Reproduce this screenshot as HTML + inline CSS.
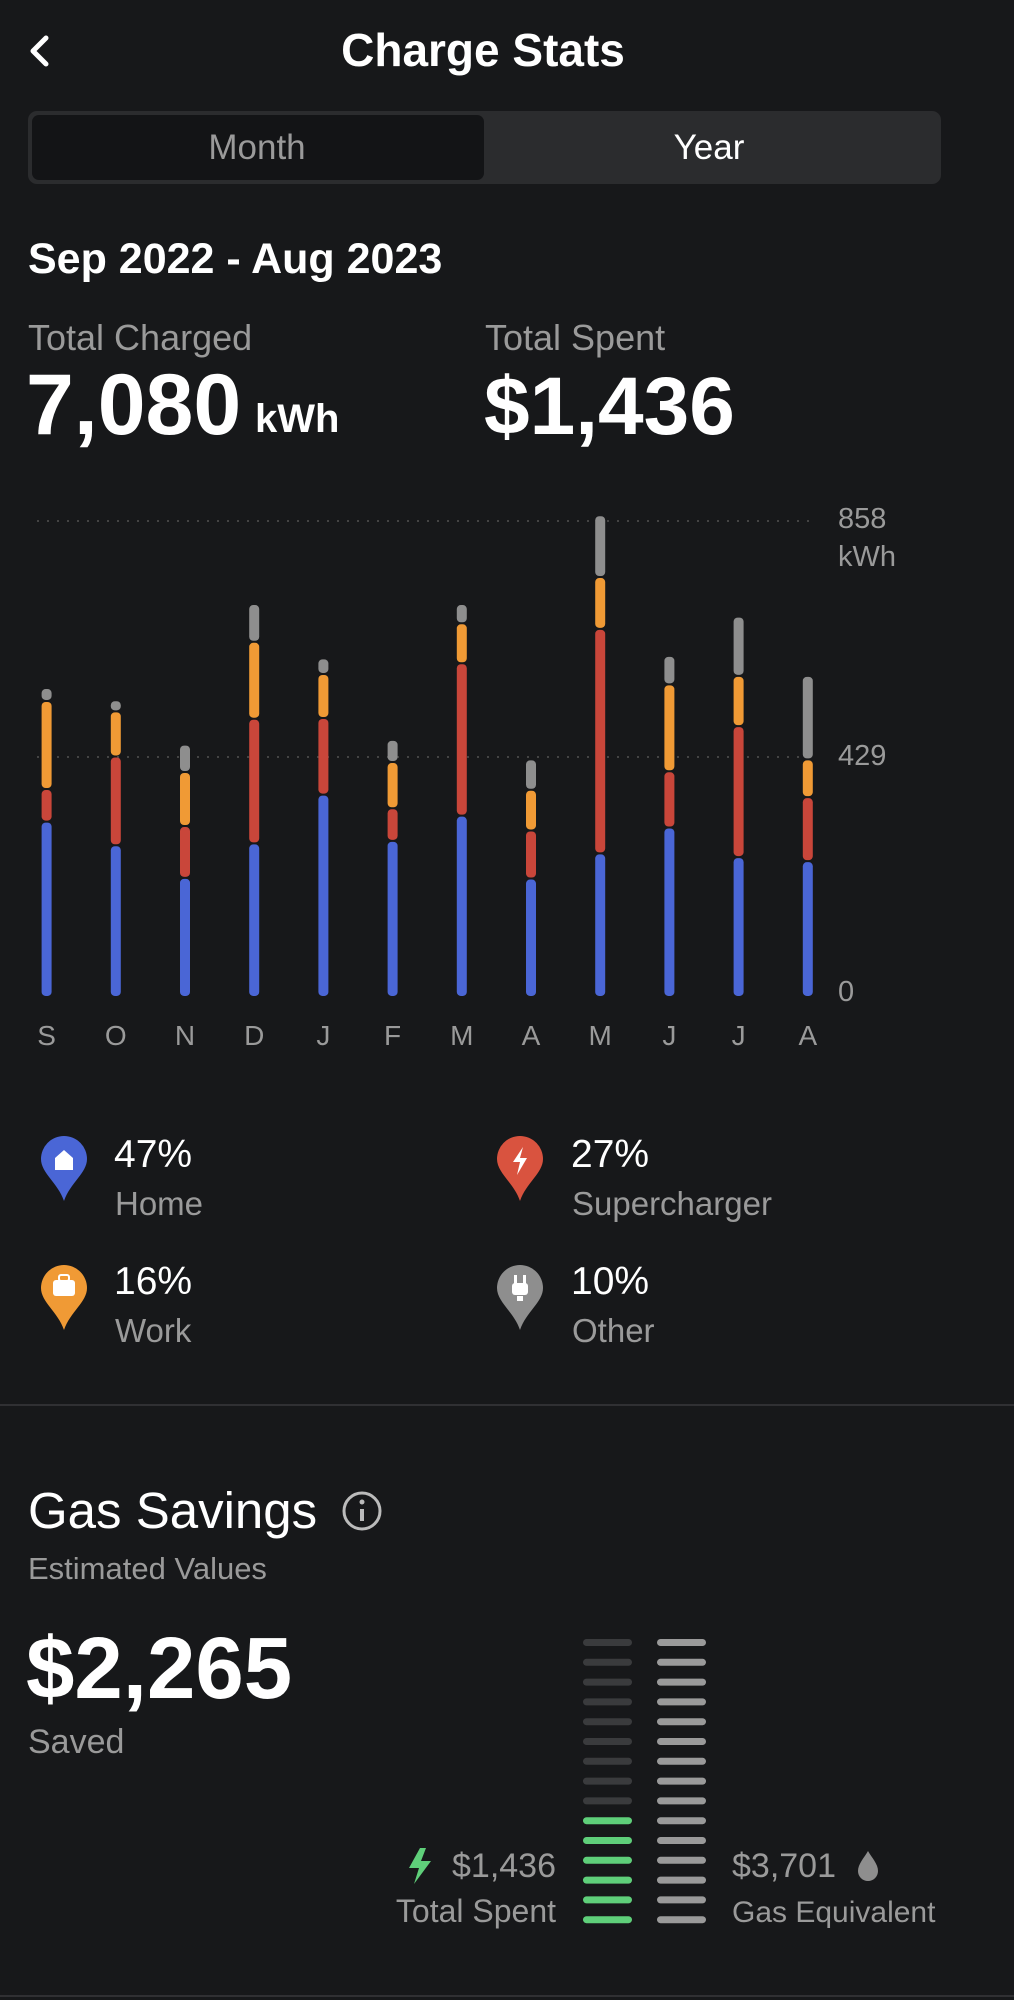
<!DOCTYPE html>
<html><head><meta charset="utf-8">
<style>
html,body{margin:0;padding:0;background:#17181a;}
svg{display:block;font-family:"Liberation Sans",sans-serif;}
</style></head>
<body>
<svg id="s" width="1014" height="2000" viewBox="0 0 1014 2000">
<rect width="1014" height="2000" fill="#17181a"/>
<path d="M46 38 L33 51 L46 64" stroke="#fff" stroke-width="5" fill="none" stroke-linecap="round" stroke-linejoin="round"/>
<text x="483" y="66" fill="#fff" font-size="46" font-weight="bold" text-anchor="middle">Charge Stats</text>
<rect x="28" y="111" width="913" height="73" rx="9" fill="#2b2c2e"/>
<rect x="32" y="115" width="452" height="65" rx="7" fill="#131416"/>
<text x="257" y="159" fill="#9a9a9a" font-size="35" text-anchor="middle">Month</text>
<text x="709" y="159" fill="#fff" font-size="35" text-anchor="middle">Year</text>
<text x="28" y="273" fill="#fff" font-size="43" font-weight="bold">Sep 2022 - Aug 2023</text>
<text x="28" y="350" fill="#9a9a9a" font-size="36">Total Charged</text>
<text x="485" y="350" fill="#9a9a9a" font-size="36">Total Spent</text>
<text x="26" y="434" fill="#fff" font-size="86" font-weight="bold">7,080</text>
<text x="255" y="432" fill="#fff" font-size="40" font-weight="bold">kWh</text>
<text x="484" y="434" fill="#fff" font-size="82" font-weight="bold">$1,436</text>
<line x1="37" y1="521" x2="814" y2="521" stroke="#444" stroke-width="2" stroke-dasharray="2 8"/>
<line x1="37" y1="757" x2="814" y2="757" stroke="#444" stroke-width="2" stroke-dasharray="2 8"/>
<text x="838" y="528" fill="#9a9a9a" font-size="29">858</text>
<text x="838" y="566" fill="#9a9a9a" font-size="29">kWh</text>
<text x="838" y="765" fill="#9a9a9a" font-size="29">429</text>
<text x="838" y="1001" fill="#9a9a9a" font-size="29">0</text>
<g id="bars"></g>
<g fill="#9a9a9a" font-size="28" text-anchor="middle" id="months"></g>
<g id="pins"></g>
<g font-size="39" fill="#fff">
<text x="114" y="1167">47%</text><text x="571" y="1167">27%</text>
<text x="114" y="1294">16%</text><text x="571" y="1294">10%</text>
</g>
<g font-size="33" fill="#9a9a9a">
<text x="115" y="1215">Home</text><text x="572" y="1215">Supercharger</text>
<text x="115" y="1342">Work</text><text x="572" y="1342">Other</text>
</g>
<rect x="0" y="1404" width="1014" height="2" fill="#303033"/>
<text x="28" y="1528" fill="#fff" font-size="51">Gas Savings</text>
<circle cx="362" cy="1511" r="18" stroke="#bbb" stroke-width="3" fill="none"/>
<rect x="360" y="1509" width="4" height="12" fill="#bbb"/><circle cx="362" cy="1502" r="2.5" fill="#bbb"/>
<text x="28" y="1579" fill="#9a9a9a" font-size="31">Estimated Values</text>
<text x="26" y="1698" fill="#fff" font-size="87" font-weight="bold">$2,265</text>
<text x="28" y="1753" fill="#9a9a9a" font-size="34">Saved</text>
<g id="gas"></g>
<path d="M420 1848 L409 1868 L419 1868 L414 1884 L431 1861 L421 1861 L426 1848 Z" fill="#5fcf7a"/>
<text x="556" y="1877" fill="#9a9a9a" font-size="34" text-anchor="end">$1,436</text>
<text x="556" y="1922" fill="#9a9a9a" font-size="32" text-anchor="end">Total Spent</text>
<text x="732" y="1877" fill="#9a9a9a" font-size="34">$3,701</text>
<path d="M868 1851 C864 1858 858 1864 858 1871 A10 10 0 0 0 878 1871 C878 1864 872 1858 868 1851 Z" fill="#8e8e8e"/>
<text x="732" y="1922" fill="#9a9a9a" font-size="30">Gas Equivalent</text>
<rect x="0" y="1995" width="1014" height="2" fill="#303033"/>
</svg>
<script>
var NS="http://www.w3.org/2000/svg";
function el(p,t,a){var e=document.createElementNS(NS,t);for(var k in a)e.setAttribute(k,a[k]);p.appendChild(e);return e;}
var d=[[565,600,838,926],[598,628,750,990],[718,792,938,1078],[338,440,648,985],[485,527,646,853],[705,765,890,978],[338,390,498,910],[758,840,950,1080],[98,265,405,1012],[478,555,790,942],[372,532,668,1022],[532,758,860,1033]];
var cols=["#8e8e8e","#f09a35","#c9463a","#4a66d6"];
var m="SONDJFMAMJJA";
var g=document.getElementById("bars"),mg=document.getElementById("months");
for(var i=0;i<12;i++){var x=46.6+i*69.2;var b=d[i].concat([1400]);
 for(var j=0;j<4;j++){var y1=480+b[j]/2.703,y2=480+b[j+1]/2.703-2;
  if(y2-y1<3)continue;el(g,"rect",{x:x-5,y:y1,width:10,height:y2-y1,rx:4,fill:cols[j]});}
 var t=el(mg,"text",{x:x,y:1045});t.textContent=m[i];}
var pg=document.getElementById("pins");
function pin(cx,cy,c){el(pg,"path",{d:"M"+(cx-23)+" "+cy+" A23 23 0 0 1 "+(cx+23)+" "+cy+" C"+(cx+23)+" "+(cy+14)+" "+(cx+6)+" "+(cy+24)+" "+cx+" "+(cy+42)+" C"+(cx-6)+" "+(cy+24)+" "+(cx-23)+" "+(cy+14)+" "+(cx-23)+" "+cy+" Z",fill:c});}
pin(64,1159,"#4a66d6");pin(520,1159,"#d9533f");pin(64,1288,"#f09a35");pin(520,1288,"#8e8e8e");
el(pg,"path",{d:"M64 1150 L73 1158 L73 1170 L55 1170 L55 1158 Z",fill:"#fff"});
el(pg,"path",{d:"M523 1147 L513 1162 L520 1162 L517 1175 L527 1158 L520 1158 Z",fill:"#fff"});
el(pg,"rect",{x:53,y:1280,width:22,height:16,rx:3,fill:"#fff"});
el(pg,"rect",{x:59,y:1275,width:10,height:6,rx:2,fill:"none",stroke:"#fff","stroke-width":2});
el(pg,"rect",{x:512,y:1283,width:16,height:12,rx:3,fill:"#fff"});
el(pg,"rect",{x:514,y:1275,width:3,height:9,fill:"#fff"});el(pg,"rect",{x:523,y:1275,width:3,height:9,fill:"#fff"});
el(pg,"rect",{x:517,y:1296,width:6,height:5,fill:"#fff"});
var gg=document.getElementById("gas");
for(var r=0;r<15;r++){var y=1639+r*19.8;
 el(gg,"rect",{x:583,y:y,width:49,height:7,rx:3.5,fill:r<9?"#3a3b3d":"#5fcf7a"});
 el(gg,"rect",{x:657,y:y,width:49,height:7,rx:3.5,fill:"#9a9a9a"});}
</script>
</body></html>
